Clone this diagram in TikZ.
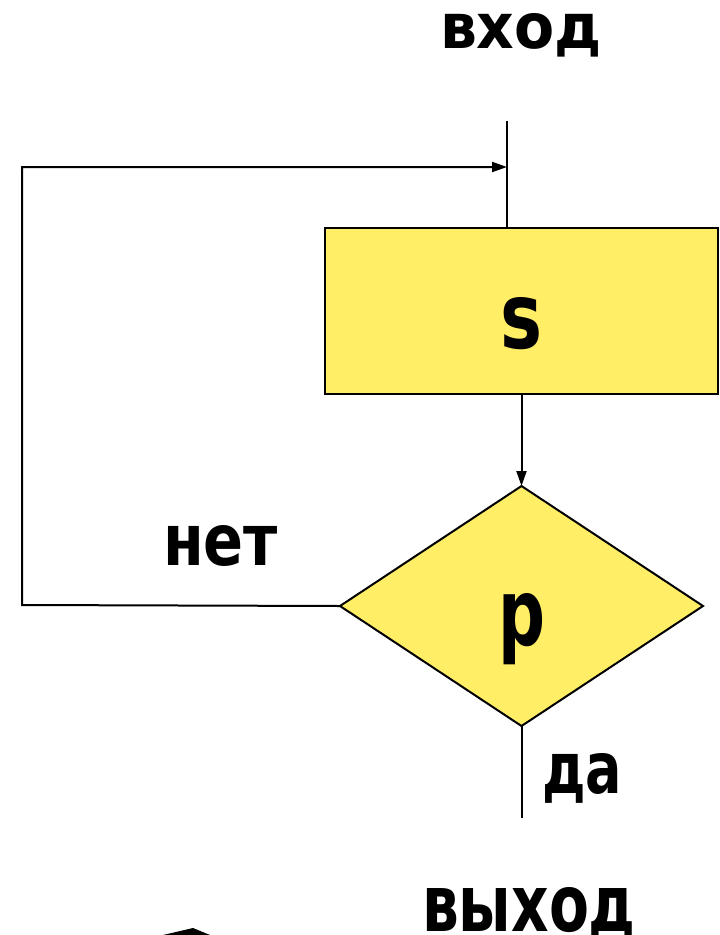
\documentclass[tikz,border=0pt]{standalone}
\usepackage{fontspec}
\setmainfont{DejaVu Sans}
\usetikzlibrary{shapes.geometric,arrows.meta}
\definecolor{boxyellow}{RGB}{255,238,102}
\newcommand{\fitlbl}[3]{\resizebox{#1pt}{#2pt}{\bfseries #3}}
\begin{document}
\begin{tikzpicture}[x=1pt,y=-1pt,
  conn/.style={line width=2pt,draw=black},
  arr/.style={conn,-{Triangle[length=15pt 0,width=10pt 0]}},
  procbox/.style={rectangle,draw=black,line width=2.2pt,fill=boxyellow,
    minimum width=393pt,minimum height=166pt,inner sep=0pt,outer sep=0pt},
  decbox/.style={diamond,draw=black,line width=2pt,fill=boxyellow,
    minimum width=363pt,minimum height=240pt,inner sep=0pt,outer sep=0pt},
  lbl/.style={anchor=base west,inner sep=0pt,outer sep=0pt}]
\useasboundingbox (0,0) rectangle (720,935);
% nodes
\node[procbox] (s) at (521.5,311) {};
\node[decbox] (p) at (521.5,606) {};
\node[lbl] (ts) at (500,348) {\fitlbl{42}{51}{s}};
\node[lbl] (tp) at (498,645) {\fitlbl{47}{52}{p}};
\node[lbl] (tin) at (440,48) {\fitlbl{162}{35}{вход}};
\node[lbl] (tno) at (163,565) {\fitlbl{115}{40}{нет}};
\node[lbl] (tyes) at (542,793) {\fitlbl{80}{40}{да}};
\node[lbl] (tout) at (422,931) {\fitlbl{214}{44}{выход}};
% coordinates
\coordinate (in) at (507,121);
\coordinate (join) at (507,167);
\coordinate (c1) at (22,605);
\coordinate (c2) at (22,167);
\coordinate (out) at (521.5,818);
% connectors
\draw[conn] (in) -- (in |- s.north);
\draw[arr] (s.south) -- (p.north);
\draw[arr,line join=miter] (p.west) -- (c1) -- (c2) -- (join);
\draw[conn] (p.south) -- (out);
% partial shape at bottom edge
\fill[black] (163,935) -- (193,928) -- (210,935) -- cycle;
\end{tikzpicture}
\end{document}
